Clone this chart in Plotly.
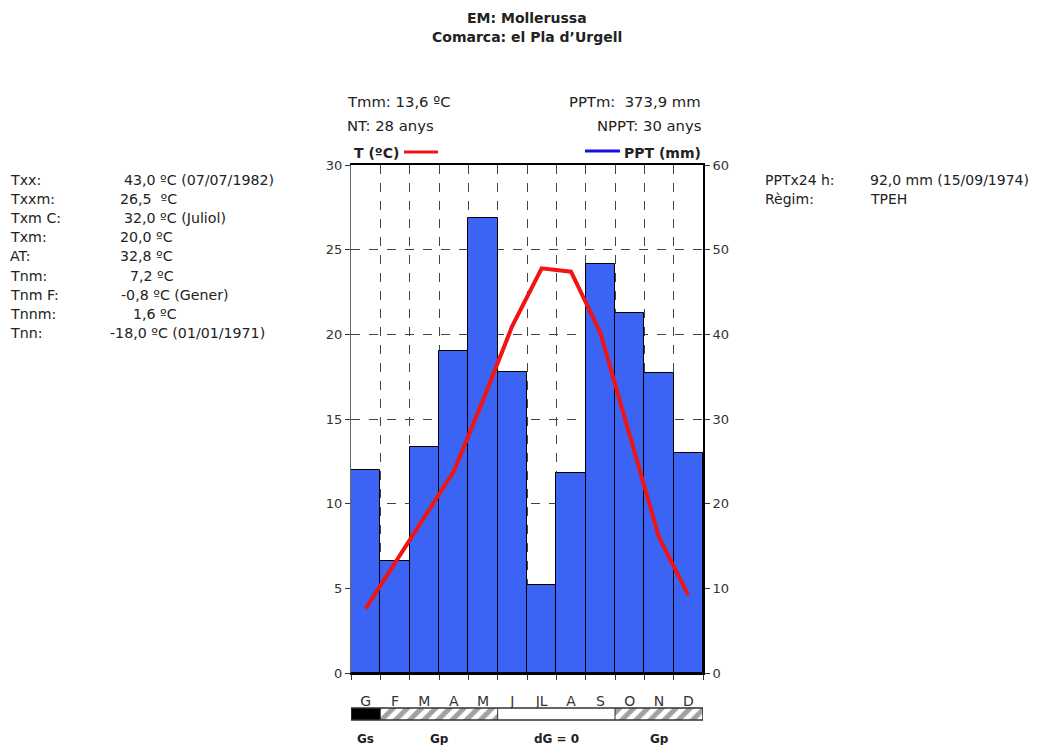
import plotly.graph_objects as go

# climate data, Mollerussa
months = ["G", "F", "M", "A", "M", "J", "JL", "A", "S", "O", "N", "D"]
temp_c = [3.8, 6.5, 9.2, 11.9, 16.1, 20.5, 23.9, 23.7, 20.1, 14.1, 8.0, 4.6]
ppt_mm = [24.0, 13.2, 26.7, 38.0, 53.7, 35.6, 10.4, 23.6, 48.3, 42.5, 35.4, 26.0]

# vegetative activity strip under the x axis
strip_class = ["Gs", "Gp", "Gp", "Gp", "Gp", "dG", "dG", "dG", "dG", "Gp", "Gp", "Gp"]
strip_names = {"Gs": "Gs", "Gp": "Gp", "dG": "dG = 0"}

title_lines = ["EM: Mollerussa", "Comarca: el Pla d\u2019Urgell"]
head_left = ["Tmm: 13,6 \u00baC", "NT: 28 anys"]
head_right = ["PPTm:  373,9 mm", "NPPT: 30 anys"]

stat_labels = ["Txx:", "Txxm:", "Txm C:", "Txm:", "AT:", "Tnm:", "Tnm F:", "Tnnm:", "Tnn:"]
stat_values = ["43,0 \u00baC (07/07/1982)", "26,5  \u00baC", "32,0 \u00baC (Juliol)", "20,0 \u00baC",
               "32,8 \u00baC", "7,2 \u00baC", "-0,8 \u00baC (Gener)", "1,6 \u00baC", "-18,0 \u00baC (01/01/1971)"]
stat_indent = [122, 118, 122, 118, 118, 128, 119, 131, 108]

ppt_labels = ["PPTx24 h:", "R\u00e8gim:"]
ppt_values = ["92,0 mm (15/09/1974)", "TPEH"]

FONT = "DejaVu Sans"
TXT = "#222222"
BLUE = "#3b63f4"
RED = "#f01414"

# plot area in screen pixels; the page body adds an 8px offset
OFF = 8
L, R, T, B = 351, 703, 165, 722


def px(x, y):
    return (x - L) / (R - L), (B - y) / (B - T)


x_vals = list(range(1, 13))
fig = go.Figure()

fig.add_trace(go.Bar(
    x=x_vals, y=ppt_mm, width=1, yaxis="y", xaxis="x",
    marker=dict(color=BLUE, line=dict(color="black", width=1)),
    name="PPT (mm)", showlegend=False,
))
fig.add_trace(go.Scatter(
    x=x_vals, y=temp_c, yaxis="y2", xaxis="x", mode="lines",
    line=dict(color=RED, width=4), name="T (\u00baC)", showlegend=False,
))

# strip of hatched / solid / blank months
fill = {"Gs": "black", "Gp": "white", "dG": "white"}
hatch = {"Gs": "", "Gp": "/", "dG": ""}
fig.add_trace(go.Bar(
    x=x_vals, y=[1] * 12, width=1, xaxis="x2", yaxis="y3",
    marker=dict(color=[fill[c] for c in strip_class], line=dict(width=0),
                pattern=dict(shape=[hatch[c] for c in strip_class], fgcolor="black",
                             size=10, solidity=0.5)),
    showlegend=False, hoverinfo="skip",
))
fig.add_shape(type="rect", xref="x2", yref="y3 domain", x0=0.5, x1=12.5, y0=0, y1=1,
              line=dict(color="#333", width=1.5))

# segments and their labels
segs = []
start = 0
for i in range(1, 13):
    if i == 12 or strip_class[i] != strip_class[start]:
        segs.append((start, i - 1, strip_class[start]))
        start = i
for a, b, c in segs:
    if a > 0:
        fig.add_shape(type="line", xref="x2", yref="y3 domain", x0=a + 0.5, x1=a + 0.5,
                      y0=0, y1=1, line=dict(color="#333", width=1))
    fig.add_annotation(x=(a + b) / 2 + 1, xref="x", y=px(0, 739)[1], yref="paper",
                       text="<b>" + strip_names[c] + "</b>", showarrow=False,
                       font=dict(family=FONT, size=12, color=TXT), xanchor="center", yanchor="middle")


def add_text(x, y, text, anchor="left", size=12, bold=False):
    xp, yp = px(x, y)
    if bold:
        text = "<b>" + text + "</b>"
    fig.add_annotation(x=xp, y=yp, xref="paper", yref="paper", text=text, showarrow=False,
                       xanchor=anchor, yanchor="middle",
                       font=dict(family=FONT, size=size, color=TXT))


add_text(527, 18, title_lines[0], "center", 14, True)
add_text(527, 37, title_lines[1], "center", 14, True)

for i, t in enumerate(head_left):
    add_text(345, 101 + 25 * i, t, "left", 14.8)
for i, t in enumerate(head_right):
    add_text(703, 101 + 25 * i, t, "right", 14.8)

for i, (lab, val) in enumerate(zip(stat_labels, stat_values)):
    y = 180 + 19.1 * i
    add_text(8, y, lab, "left", 14.2)
    add_text(stat_indent[i], y, val, "left", 14.2)

for i, (lab, val) in enumerate(zip(ppt_labels, ppt_values)):
    y = 180 + 18.5 * i
    add_text(763, y, lab, "left", 14)
    add_text(868, y, val, "left", 14)

# series headers with line keys
add_text(352, 153, "T (\u00baC)", "left", 14, True)
add_text(703, 153, "PPT (mm)", "right", 14, True)
x0, y0 = px(404, 152)
x1, _ = px(438, 152)
fig.add_shape(type="line", xref="paper", yref="paper", x0=x0, x1=x1, y0=y0, y1=y0,
              line=dict(color=RED, width=3))
x0, y0 = px(585, 151)
x1, _ = px(620, 151)
fig.add_shape(type="line", xref="paper", yref="paper", x0=x0, x1=x1, y0=y0, y1=y0,
              line=dict(color="#1010e0", width=3))

main_bottom = px(0, 673)[1]
fig.update_layout(
    width=1042, height=745,
    margin=dict(l=L - OFF, r=1042 + OFF - R, t=T - OFF, b=745 + OFF - B),
    paper_bgcolor="white", plot_bgcolor="white",
    bargap=0, showlegend=False,
    font=dict(family=FONT, color=TXT),
    xaxis=dict(
        range=[0.5, 12.5], anchor="y", tickvals=x_vals, ticktext=months, ticks="",
        tickfont=dict(size=14, color="#333"), ticklabelstandoff=14,
        showgrid=False, zeroline=False, fixedrange=True,
        showline=True, linecolor="black", linewidth=2, mirror=True,
        minor=dict(tickvals=[v + 0.5 for v in range(0, 13)], ticks="outside", ticklen=5,
                   tickcolor="#333", showgrid=True, gridcolor="#444", griddash="dash", gridwidth=1),
    ),
    yaxis=dict(
        domain=[main_bottom, 1], range=[0, 60], dtick=10, side="right",
        ticks="outside", ticklen=5, tickcolor="#333", tickfont=dict(size=13, color="#333"),
        showgrid=True, gridcolor="#444", griddash="dash", gridwidth=1, zeroline=False,
        showline=True, linecolor="black", linewidth=2,
    ),
    yaxis2=dict(
        overlaying="y", side="left", range=[0, 30], dtick=5, anchor="x",
        ticks="outside", ticklen=5, tickcolor="#333", tickfont=dict(size=13, color="#333"),
        showgrid=False, zeroline=False, showline=True, linecolor="#666", linewidth=1,
    ),
    xaxis2=dict(range=[0.5, 12.5], anchor="y3", visible=False),
    yaxis3=dict(domain=[px(0, 720)[1], px(0, 708)[1]], range=[0, 1], visible=False, anchor="x2"),
)

fig.write_html("out.html")
